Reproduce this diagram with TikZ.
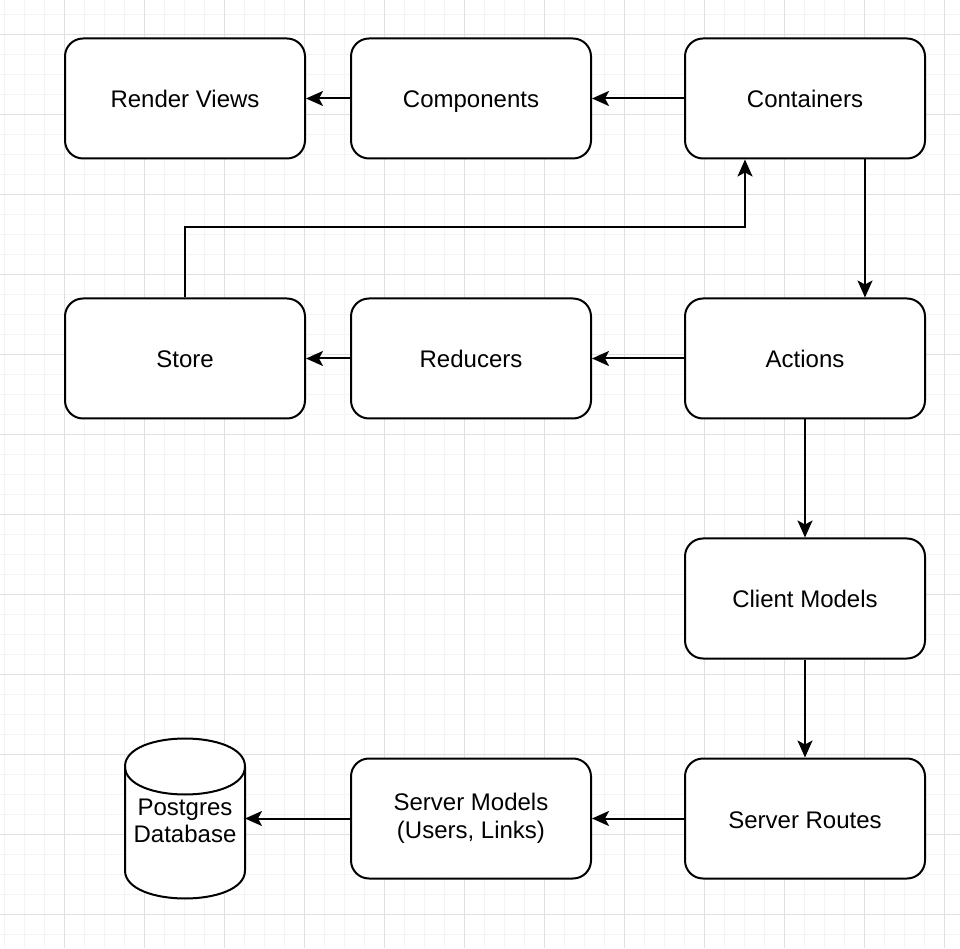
\documentclass[tikz,border=0pt]{standalone}
\usepackage{fontspec}
\setmainfont{Liberation Sans}
\usepackage{xcolor}
\usepackage{tikz}
\usetikzlibrary{arrows.meta}
\usetikzlibrary{positioning}
\usetikzlibrary{calc}
\definecolor{gridminor}{RGB}{244,244,244}
\definecolor{gridmajor}{RGB}{224,224,224}
\newcommand{\blkstrut}[1]{\rule[-6pt]{0pt}{#1}}

\begin{document}
\begin{tikzpicture}[x=1pt, y=1pt, >={Stealth[length=17pt,width=15pt,inset=4pt]},
			blk/.style={draw, line width=2pt, rounded corners=18pt, minimum width=240pt, minimum height=120pt, anchor=south west, align=center, fill=white, font=\fontsize{24}{28}\selectfont, execute at begin node=\blkstrut{31pt}},
			link/.style={->, line width=2pt}]
			%background grid
			\useasboundingbox (0,0) rectangle (960,948);
			\fill[white] (0,0) rectangle (960,948);
			\foreach \x in {4,24,...,944} \draw[gridminor, line width=1pt] (\x+.5,0) -- (\x+.5,948);
			\foreach \y in {14,34,...,934} \draw[gridminor, line width=1pt] (0,\y-.5) -- (960,\y-.5);
			\foreach \x in {64,144,...,944} \draw[gridmajor, line width=1pt] (\x+.5,0) -- (\x+.5,948);
			\foreach \y in {34,114,...,914} \draw[gridmajor, line width=1pt] (0,\y-.5) -- (960,\y-.5);
			
			%coordinates
			\coordinate (LLrend)  at (64,788.5);
			\coordinate (LLcomp)  at (350,788.5);
			\coordinate (LLcont)  at (684,788.5);
			\coordinate (LLstore) at (64,528.5);
			\coordinate (LLred)   at (350,528.5);
			\coordinate (LLact)   at (684,528.5);
			\coordinate (LLcmod)  at (684,288.5);
			\coordinate (LLsmod)  at (350,68.5);
			\coordinate (LLsrt)   at (684,68.5);
			\coordinate (LLdb)    at (125,49.5);
			
			%database cylinder
			\draw[line width=2pt, fill=white] ($(LLdb)+(0,132)$) .. controls ($(LLdb)+(0,169.33)$) and ($(LLdb)+(120,169.33)$) .. ($(LLdb)+(120,132)$) -- ($(LLdb)+(120,28)$) .. controls ($(LLdb)+(120,-9.33)$) and ($(LLdb)+(0,-9.33)$) .. ($(LLdb)+(0,28)$) -- cycle;
			\draw[line width=2pt] ($(LLdb)+(120,132)$) .. controls ($(LLdb)+(120,94.67)$) and ($(LLdb)+(0,94.67)$) .. ($(LLdb)+(0,132)$);
			
			%nodes
			\node[blk] (rend)  at (LLrend)  {Render Views};
			\node[blk] (comp)  at (LLcomp)  {Components};
			\node[blk] (cont)  at (LLcont)  {Containers};
			\node[blk] (store) at (LLstore) {Store};
			\node[blk] (red)   at (LLred)   {Reducers};
			\node[blk] (act)   at (LLact)   {Actions};
			\node[blk] (cmod)  at (LLcmod)  {Client Models};
			\node[blk, execute at begin node=\blkstrut{36pt}] (smod) at (LLsmod) {Server Models\\(Users, Links)};
			\node[blk] (srt)   at (LLsrt)   {Server Routes};
			\node[minimum width=120pt, minimum height=160pt, outer sep=0pt, anchor=south west, align=center, font=\fontsize{24}{27}\selectfont] (db) at (LLdb) {\blkstrut{28pt}Postgres\\Database};
			
			\draw[link] (comp.west) -- (rend.east);
			\draw[link] (cont.west) -- (comp.east);
			\draw[link] ($(cont.south)+(60,0)$) -- ($(act.north)+(60,0)$);
			\draw[link] (store.north) -- ++(0,70) -| ($(cont.south)-(60,0)$);
			
			\draw[link] (act.west) -- (red.east);
			\draw[link] (red.west) -- (store.east);
			\draw[link] (act.south) -- (cmod.north);
			\draw[link] (cmod.south) -- (srt.north);
			
			\draw[link] (srt.west) -- (smod.east);
			\draw[link] (smod.west) -- (db.east);
			\end{tikzpicture}
\end{document}
